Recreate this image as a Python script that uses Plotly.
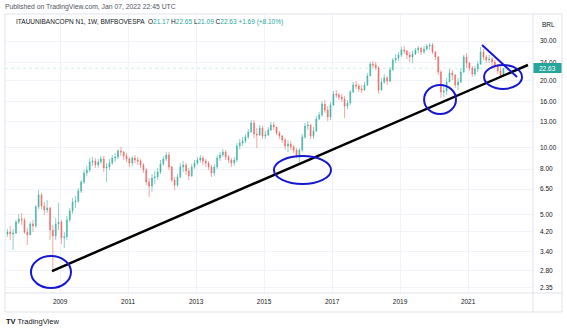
import pandas as pd
import plotly.graph_objects as go

# ---------------- data (monthly candles) ----------------
dates = pd.date_range("2007-06-01", periods=176, freq="MS") + pd.Timedelta(days=14)

close = [4.17, 4.09, 4.13, 4.63, 4.78, 4.72, 4.17, 4.05, 4.54, 4.44,
         5.41, 6.12, 5.46, 5.24, 5.35, 4.26, 4.01, 4.54, 4.63, 3.93,
         3.98, 4.73, 5.19, 5.69, 5.75, 6.37, 7.00, 7.68, 7.92, 8.60,
         8.69, 8.34, 8.60, 8.87, 8.09, 8.17, 8.51, 8.96, 9.05, 9.63,
         9.54, 9.15, 8.87, 8.51, 8.96, 8.78, 8.69, 8.34, 7.92, 7.00,
         6.71, 7.29, 7.37, 7.76, 8.43, 8.87, 9.24, 8.17, 7.14, 6.78,
         7.37, 8.17, 8.34, 7.84, 7.44, 8.17, 8.51, 8.78, 8.96, 8.69,
         8.51, 8.17, 7.68, 8.17, 8.96, 9.24, 9.54, 9.05, 8.78, 8.51,
         8.78, 10.15, 10.46, 10.68, 11.14, 11.73, 12.86, 11.48, 11.36, 12.22,
         11.25, 11.36, 11.97, 12.60, 12.35, 11.61, 11.25, 10.79, 10.15, 10.36,
         10.05, 9.73, 9.24, 9.73, 11.14, 12.47, 12.60, 11.25, 11.85, 13.40,
         13.97, 15.65, 14.72, 13.69, 15.49, 17.36, 17.18, 16.82, 16.48, 15.33,
         15.81, 17.72, 19.05, 18.86, 18.27, 18.09, 19.05, 20.89, 23.66, 23.42,
         22.70, 18.09, 19.64, 20.47, 19.85, 22.24, 24.66, 25.17, 25.96, 27.34,
         27.06, 25.96, 25.44, 26.23, 27.34, 27.90, 26.77, 27.62, 28.49, 28.79,
         26.77, 25.44, 21.78, 17.72, 17.91, 19.64, 21.56, 21.11, 19.05, 19.64,
         21.78, 25.44, 23.90, 22.70, 21.33, 22.47, 23.66, 26.77, 25.44, 24.66,
         24.91, 24.15, 23.42, 22.01, 20.94, 22.63]

open_ = [4.09, 4.17, 4.09, 4.13, 4.63, 4.78, 4.72, 4.17, 4.05, 4.54,
         4.44, 5.41, 6.12, 5.46, 5.24, 5.35, 4.26, 4.01, 4.54, 4.63,
         3.93, 3.98, 4.73, 5.19, 5.69, 5.75, 6.37, 7.00, 7.68, 7.92,
         8.60, 8.69, 8.34, 8.60, 8.87, 8.09, 8.17, 8.51, 8.96, 9.05,
         9.63, 9.54, 9.15, 8.87, 8.51, 8.96, 8.78, 8.69, 8.34, 7.92,
         7.00, 6.71, 7.29, 7.37, 7.76, 8.43, 8.87, 9.24, 8.17, 7.14,
         6.78, 7.37, 8.17, 8.34, 7.84, 7.44, 8.17, 8.51, 8.78, 8.96,
         8.69, 8.51, 8.17, 7.68, 8.17, 8.96, 9.24, 9.54, 9.05, 8.78,
         8.51, 8.78, 10.15, 10.46, 10.68, 11.14, 11.73, 12.86, 11.48, 11.36,
         12.22, 11.25, 11.36, 11.97, 12.60, 12.35, 11.61, 11.25, 10.79, 10.15,
         10.36, 10.05, 9.73, 9.24, 9.73, 11.14, 12.47, 12.60, 11.25, 11.85,
         13.40, 13.97, 15.65, 14.72, 13.69, 15.49, 17.36, 17.18, 16.82, 16.48,
         15.33, 15.81, 17.72, 19.05, 18.86, 18.27, 18.09, 19.05, 20.89, 23.66,
         23.42, 22.70, 18.09, 19.64, 20.47, 19.85, 22.24, 24.66, 25.17, 25.96,
         27.34, 27.06, 25.96, 25.44, 26.23, 27.34, 27.90, 26.77, 27.62, 28.49,
         28.79, 26.77, 25.44, 21.78, 17.72, 17.91, 19.64, 21.56, 21.11, 19.05,
         19.64, 21.78, 25.44, 23.90, 22.70, 21.33, 22.47, 23.66, 26.77, 25.44,
         24.66, 24.91, 24.15, 23.42, 22.01, 21.17]

high = [4.31, 4.44, 4.31, 4.73, 5.03, 5.08, 4.83, 4.35, 4.63, 4.73,
        5.52, 6.44, 6.25, 5.69, 5.81, 5.41, 4.49, 4.83, 5.63, 4.73,
        4.17, 4.93, 5.35, 5.93, 6.06, 6.57, 7.14, 7.92, 8.26, 8.96,
        9.05, 8.96, 8.87, 9.15, 9.15, 8.51, 8.87, 9.24, 9.44, 9.83,
        10.05, 9.63, 9.44, 9.05, 9.15, 9.24, 9.05, 8.87, 8.51, 8.09,
        7.29, 7.60, 7.84, 8.09, 8.78, 9.15, 9.54, 9.54, 8.26, 7.37,
        7.60, 8.51, 8.69, 8.51, 8.09, 8.43, 8.78, 9.05, 9.24, 9.15,
        8.87, 8.69, 8.34, 8.43, 9.24, 9.54, 9.83, 9.73, 9.24, 8.96,
        9.05, 10.46, 10.90, 11.14, 11.48, 12.09, 13.27, 13.27, 12.22, 12.60,
        12.47, 11.85, 12.35, 13.00, 13.00, 12.35, 11.85, 11.36, 11.03, 10.79,
        10.68, 10.25, 9.93, 9.93, 11.48, 12.86, 13.13, 12.73, 12.35, 13.83,
        14.42, 16.14, 16.31, 15.33, 15.97, 17.91, 18.09, 17.53, 17.36, 17.00,
        16.31, 18.09, 19.64, 19.85, 19.24, 19.05, 19.64, 21.56, 24.15, 24.40,
        24.15, 23.18, 20.47, 21.33, 20.89, 22.94, 25.17, 26.23, 26.77, 28.20,
        28.49, 27.34, 26.77, 27.06, 27.90, 28.49, 28.20, 28.49, 29.08, 29.38,
        29.38, 27.06, 25.70, 22.24, 18.86, 20.47, 22.47, 22.24, 21.33, 20.47,
        22.70, 25.96, 26.50, 24.15, 23.18, 23.18, 24.40, 28.20, 27.62, 25.96,
        25.96, 25.44, 24.66, 23.66, 22.94, 22.65]

low = [3.97, 3.84, 3.47, 4.09, 4.54, 4.49, 4.09, 3.65, 4.05, 4.17,
       4.35, 5.29, 5.29, 4.98, 5.08, 3.84, 2.76, 3.84, 4.26, 3.69,
       3.54, 3.84, 4.63, 5.03, 5.35, 5.63, 6.25, 6.85, 7.44, 7.76,
       8.26, 8.09, 8.09, 8.43, 7.76, 7.00, 7.92, 8.34, 8.60, 8.87,
       9.15, 8.78, 8.60, 8.17, 8.26, 8.51, 8.34, 8.09, 7.68, 6.78,
       6.00, 6.31, 6.85, 7.14, 7.60, 8.26, 8.69, 7.92, 7.00, 6.44,
       6.64, 7.29, 7.76, 7.52, 7.14, 7.37, 8.00, 8.34, 8.51, 8.34,
       8.17, 7.92, 7.37, 7.44, 8.00, 8.69, 9.05, 8.78, 8.51, 8.17,
       8.26, 8.60, 9.83, 10.15, 10.46, 10.90, 11.61, 11.03, 9.93, 11.25,
       10.90, 10.90, 11.25, 11.85, 11.97, 11.36, 10.90, 10.46, 9.73, 9.54,
       9.73, 9.44, 8.96, 8.60, 9.54, 10.90, 11.97, 10.90, 10.90, 11.73,
       13.27, 13.69, 14.27, 13.13, 13.27, 15.33, 16.65, 16.31, 15.97, 13.54,
       14.87, 15.49, 17.53, 18.27, 17.72, 17.53, 17.91, 18.86, 20.89, 22.70,
       22.24, 17.36, 17.91, 19.24, 19.05, 19.64, 22.24, 23.90, 24.40, 25.44,
       26.23, 24.91, 24.15, 23.90, 25.96, 26.50, 25.96, 26.23, 27.06, 27.34,
       26.23, 24.66, 21.11, 16.65, 16.82, 17.18, 19.64, 20.06, 18.46, 18.09,
       19.44, 21.56, 22.70, 22.01, 20.68, 20.89, 21.78, 23.42, 24.66, 23.90,
       23.90, 23.18, 22.47, 21.33, 20.68, 21.09]

price_ticks = [2.35, 2.80, 3.40, 4.20, 5.00, 6.50, 8.00, 10.00, 13.00, 16.00, 20.00, 24.00, 30.00]
year_ticks = [2009, 2011, 2013, 2015, 2017, 2019, 2021]

# last weekly bar shown in the legend
last_o, last_h, last_l, last_c = 21.17, 22.65, 21.09, 22.63
last_chg, last_pct = 1.69, 8.10

# drawings (date, price)
trend_line = (("2008-10-06", 2.79), ("2022-10-06", 23.42))
wedge_line = (("2021-05-31", 28.78), ("2022-06-10", 20.69))
ellipses = [
    (("2008-02-23", 2.34), ("2009-04-28", 3.26)),
    (("2015-04-17", 6.85), ("2016-12-20", 9.15)),
    (("2019-09-16", 14.11), ("2020-08-24", 19.05)),
    (("2021-06-21", 18.28), ("2022-08-03", 23.42)),
]

# ---------------- figure ----------------
W, H = 567, 330
L, R, T, B = 5, 34, 14, 37
PW, PH = W - L - R, H - T - B
UP, DOWN = "#3fb3a6", "#f06a67"
TAG = "#26a69a"
GRID = "#f0f3fa"
TXT = "#131722"
FONT = "Liberation Sans"


def px(x):
    return (x - L) / PW


def py(y):
    return 1 - (y - T) / PH


fig = go.Figure()
fig.add_trace(go.Candlestick(
    x=dates, open=open_, high=high, low=low, close=close,
    increasing=dict(line=dict(color=UP, width=0.6), fillcolor=UP),
    decreasing=dict(line=dict(color=DOWN, width=0.6), fillcolor=DOWN),
    whiskerwidth=0, showlegend=False, hoverinfo="skip",
))

shapes = []
# current price line (faint)
shapes.append(dict(type="line", xref="paper", yref="y", x0=0, x1=1, y0=last_c, y1=last_c,
                   line=dict(color="rgba(38,166,154,0.35)", width=0.6, dash="dot"), layer="below"))
# trend line
(tx0, ty0), (tx1, ty1) = trend_line
shapes.append(dict(type="line", xref="x", yref="y", x0=tx0, y0=ty0, x1=tx1, y1=ty1,
                   line=dict(color="black", width=2.5)))
# wedge line
(wx0, wy0), (wx1, wy1) = wedge_line
shapes.append(dict(type="line", xref="x", yref="y", x0=wx0, y0=wy0, x1=wx1, y1=wy1,
                   line=dict(color="#1717d0", width=2)))
for (ex0, ey0), (ex1, ey1) in ellipses:
    shapes.append(dict(type="circle", xref="x", yref="y", x0=ex0, y0=ey0, x1=ex1, y1=ey1,
                       line=dict(color="#1717d0", width=2)))
# price tag box
shapes.append(dict(type="rect", xref="paper", yref="paper", x0=px(533), x1=px(562),
                   y0=py(73), y1=py(63), fillcolor=TAG, line=dict(width=0), layer="above"))
# frame lines
shapes.append(dict(type="rect", xref="paper", yref="paper", x0=0, x1=px(562),
                   y0=py(312), y1=1, line=dict(color="#e0e3eb", width=1)))
shapes.append(dict(type="line", xref="paper", yref="paper", x0=1, x1=1,
                   y0=py(312), y1=1, line=dict(color="#e0e3eb", width=1)))
shapes.append(dict(type="line", xref="paper", yref="paper", x0=0, x1=px(562),
                   y0=0, y1=0, line=dict(color="#e0e3eb", width=1)))

annotations = [
    dict(text="Published on TradingView.com, Jan 07, 2022 22:45 UTC", xref="paper", yref="paper",
         x=px(3), y=py(7), xanchor="left", yanchor="middle", showarrow=False,
         font=dict(family=FONT, size=6.8, color="#50535e")),
    dict(text=(f"ITAUUNIBANCOPN N1, 1W, BMFBOVESPA  "
               f"O<span style='color:{TAG}'>{last_o:.2f}</span> "
               f"H<span style='color:{TAG}'>{last_h:.2f}</span> "
               f"L<span style='color:{TAG}'>{last_l:.2f}</span> "
               f"C<span style='color:{TAG}'>{last_c:.2f}</span> "
               f"<span style='color:{TAG}'>+{last_chg:.2f} (+{last_pct:.2f}%)</span>"),
         xref="paper", yref="paper", x=px(14), y=py(22), xanchor="left", yanchor="middle",
         showarrow=False, font=dict(family=FONT, size=6.5, color=TXT)),
    dict(text="BRL", xref="paper", yref="paper", x=px(548), y=py(24), xanchor="center",
         yanchor="middle", showarrow=False, font=dict(family=FONT, size=6.5, color=TXT)),
    dict(text=f"{last_c:.2f}", xref="paper", yref="paper", x=px(547.5), y=py(68), xanchor="center",
         yanchor="middle", showarrow=False, font=dict(family=FONT, size=6.5, color="white")),
    dict(text="<b>TV</b> TradingView", xref="paper", yref="paper", x=px(4), y=py(321),
         xanchor="left", yanchor="middle", showarrow=False,
         font=dict(family=FONT, size=7.5, color="#131722")),
]

fig.update_layout(
    width=W, height=H, margin=dict(l=L, r=R, t=T, b=B),
    paper_bgcolor="white", plot_bgcolor="white",
    shapes=shapes, annotations=annotations, showlegend=False,
    boxgap=0.5,
    xaxis=dict(
        type="date", range=["2007-05-20", "2022-11-29"], rangeslider=dict(visible=False),
        tickvals=[f"{y}-01-01" for y in year_ticks], ticktext=[str(y) for y in year_ticks],
        showgrid=True, gridcolor=GRID, gridwidth=1, ticks="", zeroline=False,
        showline=False, ticklabelstandoff=3, tickfont=dict(family=FONT, size=6.5, color=TXT),
    ),
    yaxis=dict(
        type="log", range=[0.3471, 1.5982], side="right",
        tickvals=price_ticks, ticktext=[f"{v:.2f}" for v in price_ticks],
        showgrid=True, gridcolor=GRID, gridwidth=1, ticks="", zeroline=False,
        showline=False, ticklabelstandoff=6,
        tickfont=dict(family=FONT, size=6.5, color=TXT),
    ),
)

fig.write_html("out.html")
